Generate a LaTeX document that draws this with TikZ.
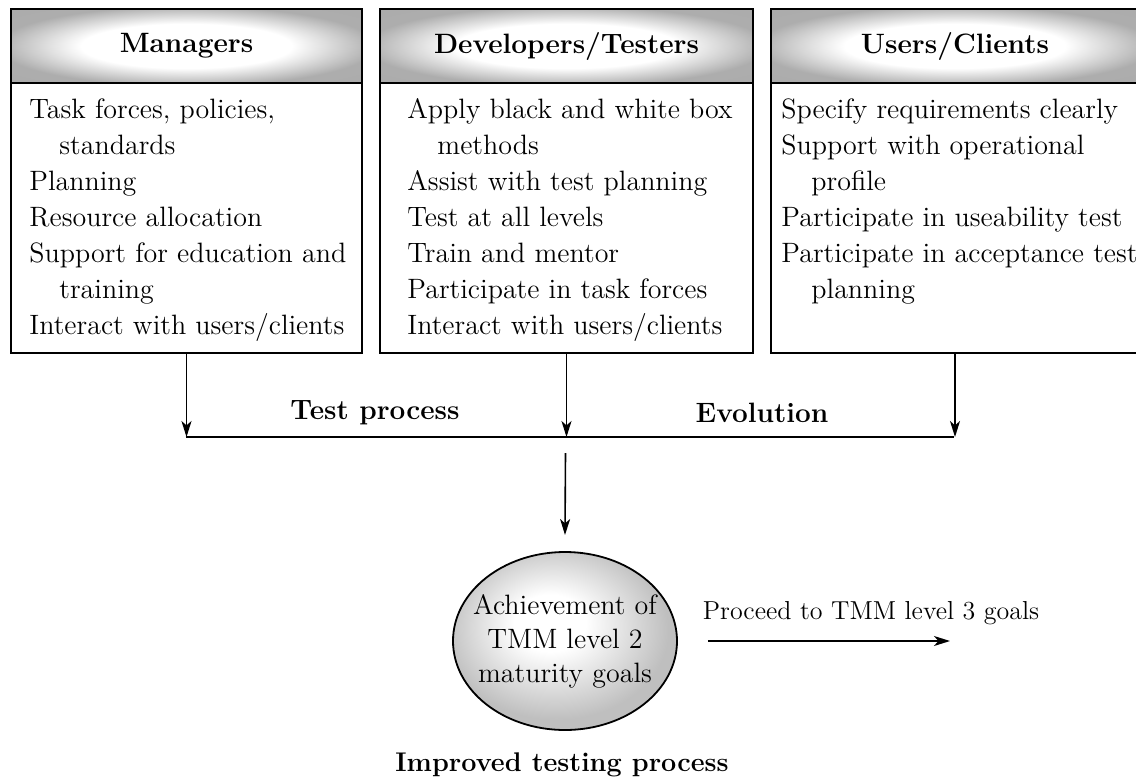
\documentclass[tikz,border=0pt]{standalone}
\usetikzlibrary{arrows.meta,shapes.geometric}
\pgfdeclareradialshading{hdshade}{\pgfpoint{0bp}{0bp}}{color(0bp)=(white); color(15bp)=(white); color(27bp)=(black!32); color(50bp)=(black!34)}
\pgfdeclareradialshading{goalshade}{\pgfpoint{-4bp}{6bp}}{color(0bp)=(white); color(8bp)=(white); color(25bp)=(black!25); color(50bp)=(black!25)}
\begin{document}
\begin{tikzpicture}[x=0.5pt,y=-0.5pt,
  frame/.style={draw,line width=1pt,inner sep=0pt,anchor=north west},
  head/.style={frame,minimum height=37pt,shading=hdshade,font=\fontsize{14}{18}\selectfont\bfseries},
  body/.style={align=left,inner sep=0pt,anchor=north west,font=\fontsize{14}{18}\selectfont},
  lbl/.style={inner sep=0pt,font=\fontsize{14}{18}\selectfont\bfseries},
  arr/.style={line width=0.8pt,-{Stealth[length=8pt,width=5pt,inset=2.2pt]}},
  ln/.style={line width=0.9pt}]
\fill[white] (0,0) rectangle (1136,782);
\useasboundingbox (0,0) rectangle (1136,782);
\clip (0,0) rectangle (1136,782);
% headers
\node[head,minimum width=175.5pt] (mh) at (10,8) {Managers};
\node[head,minimum width=186.5pt] (dh) at (379,8) {Developers/Testers};
\node[head,minimum width=184pt] (uh) at (770,8) {Users/Clients};
% boxes
\node[frame,minimum width=175.5pt,minimum height=172pt] (m) at (10,8) {};
\node[frame,minimum width=186.5pt,minimum height=172pt] (d) at (379,8) {};
\node[frame,minimum width=184pt,minimum height=172pt] (u) at (770,8) {};
% body texts
\node[body] (mt) at (29,98) {Task forces, policies,\\\hspace*{15pt}standards\\Planning\\Resource allocation\\Support for education and\\\hspace*{15pt}training\\Interact with users/clients};
\node[body] (dt) at (407,98) {Apply black and white box\\\hspace*{15pt}methods\\Assist with test planning\\Test at all levels\\Train and mentor\\Participate in task forces\\Interact with users/clients};
\node[body] (ut) at (781,98) {Specify requirements clearly\\Support with operational\\\hspace*{15pt}profile\\Participate in useability test\\Participate in acceptance test\\\hspace*{15pt}planning};
% junction line
\coordinate (ja) at (185.5,437);
\coordinate (jb) at (565.5,437);
\coordinate (jc) at (954,437);
\draw[arr] (m.south) -- (m.south |- ja);
\draw[arr] (d.south) -- (d.south |- jb);
\draw[arr] (u.south) -- (u.south |- jc);
\draw[ln] (ja) -- (jc);
\node[lbl] (tp) at (375,413) {Test process};
\node[lbl] (ev) at (762,413) {Evolution};
% goal
\node[ellipse,draw,line width=0.9pt,minimum width=112pt,minimum height=89pt,inner sep=0pt,
  shading=goalshade] (goal) at (565,641) {};
\node[align=center,inner sep=0pt,font=\fontsize{14}{17}\selectfont] (goaltext) at (goal.center)
  {Achievement of\\TMM level 2\\maturity goals};
\coordinate (js) at (565.5,453);
\draw[arr] (js) -- (goal.north |- 0,535);
\coordinate (pe) at (950,641);
\draw[arr,shorten <=15pt] (goal.east) -- (pe);
\node[inner sep=0pt,font=\fontsize{13}{18}\selectfont] (pr) at (871,613) {Proceed to TMM level 3 goals};
\node[lbl,font=\fontsize{13.5}{18}\selectfont\bfseries] (imp) at (562,765) {Improved testing process};
\end{tikzpicture}
\end{document}
